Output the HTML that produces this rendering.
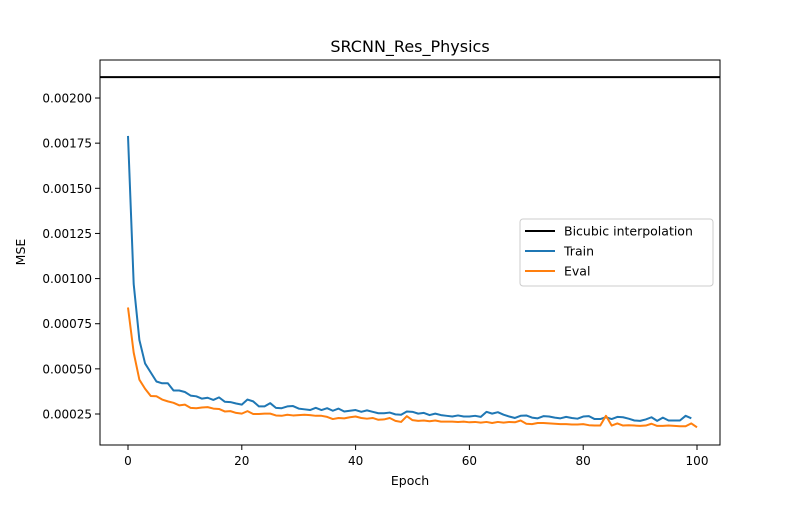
<!DOCTYPE html>
<html><head><meta charset="utf-8"><style>
body{margin:0;background:#fff}
svg text{font-family:"DejaVu Sans","Liberation Sans",sans-serif;fill:#000}
</style></head><body>
<svg id="chart" width="800" height="500" xmlns="http://www.w3.org/2000/svg">
<rect width="800" height="500" fill="#fff"/>
<text x="410" y="52" font-size="16" text-anchor="middle">SRCNN_Res_Physics</text>
<g id="plot"></g>
<rect x="100" y="60" width="620" height="385" fill="none" stroke="#000" stroke-width="1"/>
<text x="410" y="485" font-size="12.5" text-anchor="middle">Epoch</text>
<text x="25" y="252" font-size="12.5" text-anchor="middle" transform="rotate(-90 25 252)">MSE</text>
<g>
<rect x="520" y="219" width="193" height="67" fill="#fff" stroke="#ccc" rx="3"/>
<line x1="525" y1="231" x2="555" y2="231" stroke="#000" stroke-width="2"/>
<text x="564" y="235.5" font-size="12.5">Bicubic interpolation</text>
<line x1="525" y1="251" x2="555" y2="251" stroke="#1f77b4" stroke-width="2"/>
<text x="564" y="255.5" font-size="12.5">Train</text>
<line x1="525" y1="271" x2="555" y2="271" stroke="#ff7f0e" stroke-width="2"/>
<text x="564" y="275.5" font-size="12.5">Eval</text>
</g>
</svg>
<script>
const bicubic = 0.002116;
const trainVals = [0.00179,0.00097,0.00066,0.00053,0.00048,0.00043,0.00042,0.00042,0.00038,0.00038,0.000372,0.000352,0.000348,0.000335,0.00034,0.000328,0.000342,0.000318,0.000316,0.000308,0.000302,0.00033,0.00032,0.000292,0.000292,0.00031,0.000284,0.000282,0.000292,0.000294,0.00028,0.000276,0.000272,0.000284,0.000272,0.000282,0.000268,0.00028,0.000264,0.000268,0.000272,0.000262,0.00027,0.000262,0.000254,0.000254,0.000258,0.000248,0.000246,0.000264,0.000262,0.000252,0.000256,0.000244,0.000252,0.000244,0.00024,0.000236,0.000242,0.000236,0.000236,0.00024,0.000234,0.000262,0.000252,0.00026,0.000246,0.000236,0.000228,0.00024,0.000242,0.00023,0.000226,0.000238,0.000236,0.00023,0.000226,0.000234,0.000228,0.000224,0.000236,0.000238,0.000222,0.000222,0.000232,0.000222,0.000234,0.000232,0.000224,0.000214,0.000212,0.00022,0.000232,0.000212,0.00023,0.000214,0.000214,0.000214,0.00024,0.000226];
const evalVals = [0.00084,0.00059,0.00044,0.00039,0.00035,0.000348,0.00033,0.00032,0.000312,0.000298,0.000302,0.000284,0.000282,0.000286,0.000288,0.00028,0.000278,0.000264,0.000266,0.000256,0.000252,0.000266,0.00025,0.00025,0.000252,0.000252,0.000242,0.00024,0.000246,0.000242,0.000244,0.000246,0.000244,0.00024,0.00024,0.000234,0.000222,0.000228,0.000226,0.000232,0.000236,0.000228,0.000224,0.000228,0.000218,0.00022,0.000228,0.000212,0.000206,0.000238,0.000216,0.000212,0.000214,0.00021,0.000214,0.000208,0.000208,0.000208,0.000206,0.000208,0.000204,0.000206,0.000202,0.000206,0.0002,0.000206,0.000202,0.000206,0.000204,0.000214,0.000196,0.000194,0.0002,0.0002,0.000198,0.000196,0.000194,0.000194,0.000192,0.000192,0.000194,0.000188,0.000186,0.000186,0.00024,0.000186,0.000198,0.000186,0.000188,0.000186,0.000184,0.000186,0.000196,0.000184,0.000184,0.000186,0.000184,0.000182,0.000182,0.000198,0.000176];
const xTicks = [0,20,40,60,80,100];
const yTicks = [0.00025,0.00050,0.00075,0.00100,0.00125,0.00150,0.00175,0.00200];
const yTickLabels = ["0.00025","0.00050","0.00075","0.00100","0.00125","0.00150","0.00175","0.00200"];

const NS="http://www.w3.org/2000/svg";
const xs = e => 128 + e*5.69;
const ys = v => 414 - (v-0.00025)/0.00025*45.14;
const g = document.getElementById('plot');
function mk(tag, attrs){const el=document.createElementNS(NS,tag);for(const k in attrs)el.setAttribute(k,attrs[k]);g.appendChild(el);return el;}
xTicks.forEach(t=>{
  const l=mk('line',{x1:xs(t),x2:xs(t),y1:445,y2:450,stroke:'#000'});
  
  
  const tx=mk('text',{x:xs(t),y:465,'font-size':12,'text-anchor':'middle'});tx.textContent=t;
  
  
});
yTicks.forEach((t,i)=>{
  const l=mk('line',{x1:95,x2:100,y1:ys(t),y2:ys(t),stroke:'#000'});
  
  
  const tx=mk('text',{x:92,y:ys(t)+4.5,'font-size':12,'text-anchor':'end'});tx.textContent=yTickLabels[i];
  
  
});
const bl=mk('line',{x1:100,x2:720,y1:ys(bicubic),y2:ys(bicubic),stroke:'#000','stroke-width':2});


function series(vals,color,name){
  const p=mk('polyline',{points:vals.map((v,i)=>xs(i)+','+ys(v)).join(' '),fill:'none',stroke:color,'stroke-width':2,'stroke-linejoin':'round'});
  
  
}
series(trainVals,'#1f77b4','train-line');
series(evalVals,'#ff7f0e','eval-line');
</script>
</body></html>
